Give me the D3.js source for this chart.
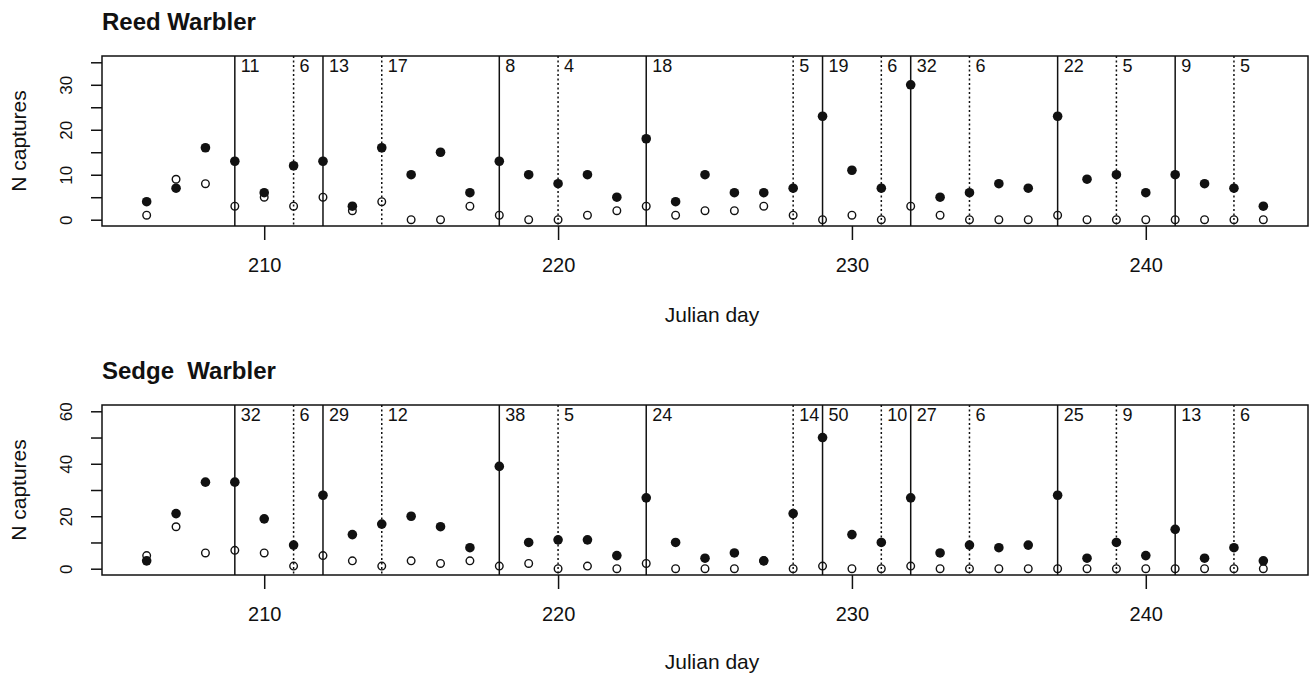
<!DOCTYPE html>
<html>
<head>
<meta charset="utf-8">
<script src="https://cdn.jsdelivr.net/npm/d3@7"></script>
<style>
  html, body { margin: 0; padding: 0; background: #fff; }
  svg { display: block; font-family: "Liberation Sans", Arial, sans-serif; }
</style>
</head>
<body>
<svg id="chart" width="1310" height="674"></svg>
<script>
// ---------------- DATA ----------------
const days = [206,207,208,209,210,211,212,213,214,215,216,217,218,219,220,221,222,223,224,225,
              226,227,228,229,230,231,232,233,234,235,236,237,238,239,240,241,242,243,244];

const reedFilled = [4,7,16,13,6,12,13,3,16,10,15,6,13,10,8,10,5,18,4,10,
                    6,6,7,23,11,7,30,5,6,8,7,23,9,10,6,10,8,7,3];
const reedOpen   = [1,9,8,3,5,3,5,2,4,0,0,3,1,0,0,1,2,3,1,2,
                    2,3,1,0,1,0,3,1,0,0,0,1,0,0,0,0,0,0,0];

const sedgeFilled = [3,21,33,33,19,9,28,13,17,20,16,8,39,10,11,11,5,27,10,4,
                     6,3,21,50,13,10,27,6,9,8,9,28,4,10,5,15,4,8,3];
const sedgeOpen   = [5,16,6,7,6,1,5,3,1,3,2,3,1,2,0,1,0,2,0,0,
                     0,3,0,1,0,0,1,0,0,0,0,0,0,0,0,0,0,0,0];

// vertical reference lines (alternating solid / dotted)
const lineDays  = [209,211,212,214,218,220,223,228,229,231,232,234,237,239,241,243];
const lineTypes = ["solid","dotted","solid","dotted","solid","dotted","solid","dotted",
                   "solid","dotted","solid","dotted","solid","dotted","solid","dotted"];
const reedLineLabels  = [11,6,13,17,8,4,18,5,19,6,32,6,22,5,9,5];
const sedgeLineLabels = [32,6,29,12,38,5,24,14,50,10,27,6,25,9,13,6];

const xTicks = [210,220,230,240];
const reedYTicks  = [0,5,10,15,20,25,30,35];
const reedYLabels = [0,10,20,30];
const sedgeYTicks  = [0,10,20,30,40,50,60];
const sedgeYLabels = [0,20,40,60];

const titles = ["Reed Warbler", "Sedge\u00a0\u00a0Warbler"];
const xTitle = "Julian day";
const yTitle = "N captures";

// ---------------- LAYOUT ----------------
const svg = d3.select("#chart");
const left = 102, right = 1308;
const ink = "#111";

const x = d3.scaleLinear().domain([204.48, 245.52]).range([left, right]);

const panels = [
  { title: titles[0], top: 56, bottom: 226, ydom: [-1.4, 36.4], xtitleOff: 96,
    filled: reedFilled, open: reedOpen, labels: reedLineLabels,
    yTicks: reedYTicks, yLabels: reedYLabels },
  { title: titles[1], top: 405, bottom: 575, ydom: [-2.4, 62.4], xtitleOff: 94,
    filled: sedgeFilled, open: sedgeOpen, labels: sedgeLineLabels,
    yTicks: sedgeYTicks, yLabels: sedgeYLabels }
];

panels.forEach(p => {
  const y = d3.scaleLinear().domain(p.ydom).range([p.bottom, p.top]);
  const g = svg.append("g");

  // title
  g.append("text")
    .attr("x", left).attr("y", p.top - 26)
    .attr("font-size", 24).attr("font-weight", "bold").attr("fill", ink)
    .text(p.title);

  // vertical lines
  g.selectAll("line.vl").data(lineDays).join("line")
    .attr("class", "vl")
    .attr("x1", d => x(d)).attr("x2", d => x(d))
    .attr("y1", p.top).attr("y2", p.bottom)
    .attr("stroke", ink).attr("stroke-width", 1.5)
    .attr("stroke-dasharray", (d, i) => lineTypes[i] === "dotted" ? "2,2.5" : null);

  // line labels
  g.selectAll("text.vlab").data(lineDays).join("text")
    .attr("class", "vlab")
    .attr("x", d => x(d) + 6).attr("y", p.top + 16)
    .attr("font-family", "'Liberation Sans Narrow', 'Arial Narrow', sans-serif")
    .attr("font-size", 18).attr("fill", ink)
    .text((d, i) => p.labels[i]);

  // open points
  g.selectAll("circle.op").data(days).join("circle")
    .attr("class", "op")
    .attr("cx", d => x(d)).attr("cy", (d, i) => y(p.open[i]))
    .attr("r", 3.8).attr("fill", "none").attr("stroke", ink).attr("stroke-width", 1.4);

  // filled points
  g.selectAll("circle.fp").data(days).join("circle")
    .attr("class", "fp")
    .attr("cx", d => x(d)).attr("cy", (d, i) => y(p.filled[i]))
    .attr("r", 4.8).attr("fill", ink);

  // box
  g.append("rect")
    .attr("x", left).attr("y", p.top)
    .attr("width", right - left).attr("height", p.bottom - p.top)
    .attr("fill", "none").attr("stroke", ink).attr("stroke-width", 1.5);

  // y axis
  const ya = g.append("g").attr("transform", `translate(${left},0)`)
    .call(d3.axisLeft(y).tickValues(p.yTicks).tickSize(11).tickSizeOuter(0)
      .tickFormat(v => p.yLabels.includes(v) ? v : ""));
  ya.select(".domain").remove();
  ya.selectAll(".tick line").attr("stroke", ink).attr("stroke-width", 1.5);
  ya.selectAll(".tick text")
    .attr("transform", "rotate(-90)")
    .attr("x", 0).attr("y", -30).attr("dy", 0)
    .attr("text-anchor", "middle")
    .attr("font-size", 17).attr("font-family", "'Liberation Sans', Arial, sans-serif")
    .attr("fill", ink);

  // x axis
  const xa = g.append("g").attr("transform", `translate(0,${p.bottom})`)
    .call(d3.axisBottom(x).tickValues(xTicks).tickSize(14).tickSizeOuter(0).tickFormat(d3.format("d")));
  xa.select(".domain").remove();
  xa.selectAll(".tick line").attr("stroke", ink).attr("stroke-width", 1.5);
  xa.selectAll(".tick text")
    .attr("y", 46).attr("dy", 0)
    .attr("font-size", 20).attr("font-family", "'Liberation Sans', Arial, sans-serif")
    .attr("fill", ink);

  // x title
  g.append("text")
    .attr("x", (left + right) / 2 + 7).attr("y", p.bottom + p.xtitleOff)
    .attr("text-anchor", "middle").attr("font-size", 21).attr("fill", ink)
    .text(xTitle);

  // y title
  g.append("text")
    .attr("transform", `translate(26,${(p.top + p.bottom) / 2}) rotate(-90)`)
    .attr("text-anchor", "middle").attr("font-size", 21).attr("fill", ink)
    .text(yTitle);
});
</script>
</body>
</html>
